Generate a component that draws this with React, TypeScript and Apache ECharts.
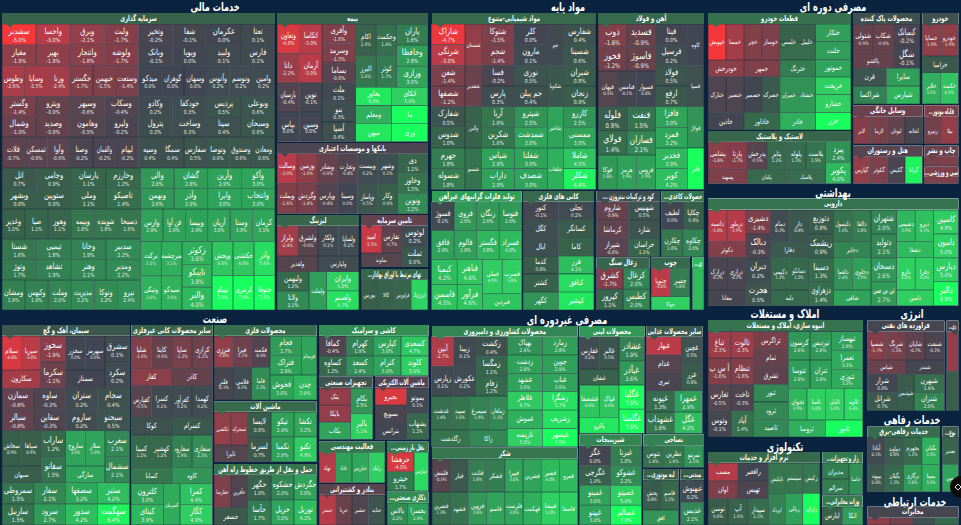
import React, { useEffect, useRef } from "react";
import * as echarts from "echarts";

// ---------- DATA: sector titles ----------
const sectorNames = ["خدمات مالی","مواد پایه","مصرفی دوره ای","بهداشتی","صنعت","مصرفی غیردوره ای","املاک و مستغلات","انرژی","خدمات رفاهی","تکنولوژی","خدمات ارتباطی"];

// ---------- DATA: cells, "name|change"; "~" = the change is not printed in the cell ----------
const investCells = [
 [["سشدبر|-5.0","واحسا|-3.0","وبرق|-2.1","ولبت|-1.7","وتخیز|-0.2","شفا|-0.1","عکرمان|0.0","تعتا|0.1"],["مغیار|-1.9","بهپر|-1.9","وانتجار|-1.8","ولوشه|-1.7","وبانک|-0.1","وپویا|0.0","ولبید|0.1","فارس|0.1"]],
 [["وطوس|-2.6","وسایا|-2.5","ورنا|-2.4","خگستر|-1.7","خبهمن|-1.5","وستعت|-1.4","میدکو|0.0","گوهران|0.0","وسهان|0.0","وآتوس|0.2","وتوسم|0.2","وامین|0.2"]],
 [["وگستر|-1.4","وپترو|-0.9","وسپهر|-0.6","وسکاب|-0.4","وکادو|0.2","خودکفا|0.3","پردیس|0.5","وبوعلی|0.6"],["وشمال|-1.0","وصدید|-0.9","وهامون|-0.5","ولپرو|-0.2","پترول|0.3","وساخت|0.3","سپنا|0.4","وسبحان|0.6"]],
 [["قلات|-0.7","ثمسکن|-0.6","وآوا|-0.6","وصنا|-0.2","والقمان|-0.2","لپیام|-0.2","وسپه|0.4","سمگا|0.4","سفارس|0.5","وتوصا|0.6","وصندوق|0.6","ومعادن|0.6"]],
 [["اتل|0.7","وجامی|0.9","پارسان|1.1","وخارزم|1.2"],["وبشهر|0.9","ستوپین|0.9","وملی|1.1","تاصیکو|1.4"]],
 [["وغدیر|1.0","صبا|1.1","وهور|1.1","وبیمه|1.6","شوینده|1.6","دسبحا|1.6"]],
 [["شستا|1.6","تپمپی|1.8","وخانا|1.9","سدبیر|2.2"],["وتوژ|1.7","تشاهد|1.9","وهنر|2.1","ومدیر|2.2"]],
 [["ومشان|1.9","وکبهمن|1.9","وملت|2.0","مدیریت|2.2","وتوکا|2.2","نیرو|2.4"]],
 [["والی|2.6","گشان|2.8","وآرین|2.9","وآکو|3.0"],["وبهمن|2.6","وآذر|2.9","وایرا|3.0","وانتخاب|3.0"]],
 [["وارس|2.9","فن آوا|2.9","وبیسا|2.9","آریان|3.0","وسنا|3.0","کرمان|3.1"]],
 [["برکت|3.3","ونیکی|3.6"],["سرچشمه|3.5","سیدکو|3.6"]],
 [["زکوثر|3.6","تاپیکو|3.8","والبر|4.0"]],
 [["وپخش|4.6","تیپیکو|7.0"],["حکشتی|4.6","کرمزی|7.0"],["وآذر|5.6","ختوقا|7.0"]],
];
const insuranceCells = [
 [["وتعاون|-4.0","اتکاسا|-3.0"],["دانا|-2.2","آرمان|-3.0"],["پارسیان|-0.4","نوین|-0.1"],["بپاس|0.0","وسین|0.0"]],
 [["وآفری|-1.6","وسرمد|-1.5","بساما|-0.6","ملت|0.1","بنو|0.3","آسیا|0.4"]],
 [["اکام|1.0","البرز|1.6"],["وحکمت|1.4","کوثر|1.7"]],
 [["پاران|1.8","وحافظا|2.8","ورازی|3.0"]],
 [["بخاور|6.0","اتکای|5.0"],["ومعلم|~3.5","ما|~7.0"],["میهن|~6.0","وری|~7.0"]],
];
const bankCells = [
 [["وسالت|-3.0","وزمین|-1.9","وبصادر|-0.9","وتجارت|-0.4","وبیست|0.2","وشهر|0.3"],["وبملت|-1.6","وگردش|-1.4","وپارس|-0.4","وسینا|0.0","وپاسار|0.5","وکار|0.9"]],
 [["دی|1.1","وخاور|1.5","ونوین|2.2"]],
];
const leasingCells = [
 [["ولراز|-2.4","ولشرق|-0.6","ولکار|0.1","ولساپا|0.2"]],
 [["ولغدیر|~-0.5","ولپارس|~0.2"]],
 [["ولبهمن|1.2","ولانا|2.2"]],
 [["ولملت|~2.8"]],
 [["وایران|5.0","ولصنم|5.7"]],
];
const capitalCells = [
 [["امید|-3.5","تفارس|-0.7"]],
 [["لوتوس|0.2","تملت|0.6"]],
 [["تماوند|~-0.5"]],
];
const exchangeCells = [[["بورس|~0.9","کالا|~1.0","فرابورس|~1.1","انرژی3|~5.2"]]];
const chemCells = [
 [["شاراک|-4.7","شرنگی|-3.0","شفن|-1.4","شصفها|-1.2","شفارک|0.5","شدوس|1.0","جهرم|1.8","شسوله|1.8"]],
 [["شستان|~-2.0","شغدیر|~-1.0","والبرز|~1.0","شسم|~1.5"]],
 [["شتوکا|-1.5","شجم|-1.4","فسا|-0.2","پارس|0.3","آریا|1.6","شکربن|1.6","شپاس|2.9","داراب|2.9"]],
 [["کلر|0.0","مارون|0.1","نوری|0.5","جم پیلن|0.4","شپترو|2.5","شمدشت|3.0","شفلنا|3.0","شصدف|3.0"]],
 [["جم|~0.1","شکویا|~0.6","شاخیر|~3.0","شلعاب|~3.5"]],
 [["شفارس|0.4","شسینا|0.6","شیران|0.8","زنجان|0.9","کازرو|2.5","ممسنی|3.0","شاملا|4.5","شکلر|6.4"]],
];
const steelCells = [
 [["ذوب|-1.6","فسدید|-0.9"],["فخوز|-1.2","فاسوژ|-0.9"]],
 [["فپهان|-0.5","فنامس|-0.1","فسپوار|0.0"]],
 [["فلوله|0.9","فنفت|1.5"],["فولای|1.4","فسازان|2.1"]],
 [["فوکا|2.6","هرمز|2.9","فروس|2.9"]],
 [["فیتا|0.0","فرسیل|0.2","فولاد|0.5","ارفع|0.7","فافزا|3.0","فمرد|3.2","فخدیر|3.9","کویر|4.2"]],
 [["کاوه|~0.0","فسپا|~0.4","فولاژ|~2.5","فایر|~7.0"]],
];
const metalCells = [
 [["فسوژ|0.1","فروی|2.6","زنگان|2.6","فنوسا|2.6"],["فافق|2.9","فالوم|2.9","فگستر|3.8","فسراد|4.0"]],
 [["کیمیا|4.2","فباهنر|4.6"],["فاسمین|4.5","فرآور|4.6"]],
 [["فملی|4.9","فسرب|5.0"]],
 [["فنردین|~4.5"]],
];
const mineCells = [[["کنور|-0.1","تجلی|0.2"],["کگل|~0.3","کسانگر|~0.8"],["ایال|~0.3","کاما|~1.0"],["کدما|0.8","فزر|4.1"],["کشتر|~1.0","کبافق|~5.5"],["کگهر|~2.5","کپشیر|~6.0"]]];
const fertCells = [[["شاروم|-0.9","شهنیس|0.5"],["کرماشا|~-0.8","شارد|~0.5"],["شیراز|-0.6","خراسان|1.1"]]];
const paperCells = [[["لطیف|0.0","چکاپا|0.9"],["چکارن|1.6","چکاوه|2.0"]]];
const coalCells = [[["کشرق|-1.7","کزغال|2.0"],["کپرور|1.1","کطبس|2.0"]]];
const woodCells = [[["چنوپا|-3.0","چفیبر|1.8"]],[["چوکا|~5.0"]]];
const otherBasicCells = [[["|~4.0"]]];
const partsCells = [
 [["خپویش|~-5.0","خمسا|~-2.5","خچر|~-1.6","خوساز|~-1.5","خلمس|~1.0","خلیبل|~1.3"]],
 [["ختکار|~2.8","خلنت|~2.8","خموتور|~3.0","خریخت|~5.0","خشارو|~5.0","خزر|~7.0"]],
 [["خودرخش|~-1.8","خمهر|~-1.5","خترنگ|~1.8"]],
 [["خنارک|~-0.3","خنصیر|~-0.3","خصمیر|~0.0","خصرکه|~0.7","خمیران|~2.4","خشتاد|~2.6"]],
 [["خاذین|~0.0","خاذاور|~1.2","خاذر|~3.5"]],
];
const plasticCells = [
 [["پشامی|-1.8","پارتا|-1.7","پدرخش|-0.5","پتایر|1.2","پلوله|1.3","پلاست|1.5"]],
 [["پسهند|~-1.5","پکیان|~1.2","پلاسک|~1.3"]],
 [["پیزد|2.4","پکویر|4.0"]],
];
const detergentCells = [
 [["شتولی|-0.9","شکاب|-0.9"]],
 [["کیمیاتک|-0.2","شگل|-0.1"]],
 [["پاکشو|~-0.9"]],
 [["قرن|~0.5","سایرا|~2.8"],["شراکسا|~1.9","شیارس|~3.8"]],
];
const autoCells = [[["خساپا|-1.9","خودرو|-1.9"]],[["خزامیا|~0.7"]],[["خلایر|3.5","خکمند|4.5"]]];
const homeCells = [[["لابر|~-1.7","لازما|~-1.3","لبوتان|~-0.8","لخانه|~-0.1"]]];
const engineCells = [[["رنیرو|~-1.2","بیلا|~-2.0"]]];
const hotelCells = [[["گپارس|~-2.0","گکوثر|~-1.5","گکیش|~-0.2","گرانا|~6.5"]]];
const printCells = [[["|~-1.3","|~-1.5"]]];
const sportCells = [[["|~-1.5"]]];
const pharmaCells = [
 [["داسبه|-3.0","درملور|-2.9"]],
 [["دکوثر|~-1.6"]],
 [["دشیری|-1.4","دبالک|-0.3","دیران|0.2","هجرت|0.5"]],
 [["درازک|-0.2","درازی|-0.2"]],
 [["معانا|~-0.1"]],
 [["دمام|0.2","دار|0.6"]],
 [["دفارا|~0.7"]],
 [["دکیمی|1.2","دسانکو|1.2"]],
 [["دلبه|~1.2"]],
 [["دتوزیع|0.8","ریشمک|0.9","دسینا|1.3","دزهراوی|1.4"]],
 [["دکپسول|1.5","دالفا|1.8"]],
 [["دجابر|~2.0"]],
 [["دلقما|2.4","دحاوی|2.9"]],
 [["شافی|~3.0"]],
 [["شتهران|2.0","دتولید|2.1","دسبحان|2.6","تی بی سی|2.7"]],
 [["دشیمی|3.9","دیرو|4.3"]],
 [["دشفا|~4.0"]],
 [["دارو|5.0","دفرا|5.0"]],
 [["دامین|~5.0"]],
 [["کاسپین|4.9","دامیون|5.0","دپارس|5.0","دالبر|6.9"]],
];
const realEstateCells = [
 [["ثباغ|-2.3","ثالوت|-2.3"],["آ س پ|-1.6","ثنظام|-1.6"],["ثغارس|-0.5","ثاخت|-0.3"],["وثوس|-0.1","آپاد|1.4"]],
 [["ثزاگرس|~-1.3","ثمام|~-0.9","ثشرق|~-0.7","ثنور|~2.1","ثرود|~2.1","ثاصید|~2.1"]],
 [["کرسون|2.6","ثپردیس|2.6"],["ثتوسا|2.8","ثتران|2.9"]],
 [["ثبهساز|2.9","ثعمرا|3.3","ثتوزی|3.3"]],
 [["ثجوان|3.9","تاسا|5.0","ثالبان|5.0","ثالوند|5.4"]],
 [["ثروسا|~3.5","ثانور|~7.0"]],
];
const oilCells = [
 [["شسپا|-1.7","شرنگ|-1.3","شاپان|-0.7","شنفت|-0.2"]],
 [["شپاس|~-1.0","شبندر|~-0.1"]],
 [["شراز|0.0","شرانل|0.7"]],
 [["شپدیس|~0.8"]],
 [["شبهرن|1.4","شتران|2.0"]],
];
const oilExtractCells = [[["|~-2.0","|~0.9"]]];
const powerCells = [[["آبادا|0.1","دماوند|0.8","بجهرم|1.2","بکیان|3.5"],["بپیوند|0.6","بگیلان|1.2","برگازی|2.6","بمپنا|3.5"]]];
const otherUtilCells = [[["بغدیر|~1.1","بمپن|~3.0"]]];
const softwareCells = [
 [["مسب|~-2.9","رافغیر|~0.0"],["اوان|~-1.5","تهیس|~-0.3"]],
 [["تاپکیش|~1.6","سیستم|~1.6","رکیش|~1.6"]],
 [["توسن|0.8","آپ|1.0","سپیدار|1.3"]],
 [["ایرداد|~1.9","ریالی|~2.9","رازان|~7.0"]],
];
const hardwareCells = [[["مدیران|~1.8","سرالم|~1.8"]],[["خاسا|~2.4"]]];
const telecomGearCells = [[["ایارس|~1.0","اتکا|~2.8"]]];
const telecomCells = [[["|~-1.9","|~-1.2","|~0.4","|~1.2"]]];
const cementCells = [
 [["سیلام|-4.0","سپرپا|-3.0"]],
 [["سکارون|~-2.5"]],
 [["سخوز|-1.9","سکرما|-1.1"]],
 [["سخزر|0.0","سهرمز|0.0"]],
 [["سمتاز|~0.0"]],
 [["سشرق|0.1","سکرد|0.2"]],
 [["سمازن|-0.8","ساوه|-0.3","ستران|0.2","سجام|0.4"],["سبالر|-0.8","سفاین|-0.3","ساروم|0.2","سیجنو|0.5"]],
 [["سخاش|0.9","سپاها|0.9"]],
 [["سبهان|~0.9"]],
 [["ساراب|1.2","سفانو|1.5"]],
 [["ساروج|3.0","سلار|3.0"]],
 [["سارگی|~3.0"]],
 [["سغرب|2.1","سشمال|2.1"]],
 [["سمروطی|1.5","سفار|2.1","سصفها|3.2","سثبر|4.2"],["ساربیل|1.5","سرود|2.7","سدور|4.2","سهگمت|6.4"]],
];
const nonMetalCells = [
 [["شلیا|-1.6","کایتا|-0.9","ساپا|-1.3","کرازی|-1.1"]],
 [["کفار|~-1.8","کاذر|~-0.9"]],
 [["کفپارس|-0.5","کسرا|0.1","کفرآور|0.2","کهمدا|0.2"]],
 [["کوکا|~0.4","کسرام|~0.7"]],
 [["کمینا|1.2","کهشیر|1.2","سفارود|1.9","سفاری|2.3"]],
 [["کسابا|~1.6","کاوه|~2.5"]],
 [["کلترون|3.0","کیتای|3.9"]],
 [["کسرمان|~3.3"]],
 [["کمرا|4.4","کگاز|4.9"]],
];
const metalProdCells = [
 [["فنرژی|-2.0","فیرا|-1.1","فکمند|-0.4"]],
 [["فلنر|-0.1","فلامی|0.2"]],
 [["فاما|2.2"]],
 [["فجام|2.7","فتراک|2.9"]],
 [["فرسام|~3.0"]],
 [["قجوش|3.0","چدن|3.9"]],
];
const machineCells = [
 [["تکشی|~-2.0","تسحرکه|~-1.8"]],
 [["تایرا|~-0.5"]],
 [["لایسا|0.8","لسرما|0.7"]],
 [["تپکو|2.9","تکمبا|2.9"]],
 [["تکشا|3.2","تکنو|4.9"]],
];
const railCells = [
 [["حفارسا|~-1.5","حآفرین|~-0.3"]],
 [["حسفر|~0.7"]],
 [["حگهر|1.0","حآسا|1.7"]],
 [["حشکوه|2.0","حریل|3.0"]],
 [["حگردش|3.0","توریل|4.2"]],
];
const tileCells = [[["کمافا|-0.4","کهرام|1.9","کپارس|3.0","کسعدی|4.7"],["کساوه|1.2","کسعد|2.4","کترام|3.0","کلوند|5.0"]]];
const equipCells = [[["بتک|~-2.0","بایکا|~-2.0","بکاب|~3.0"]],[["بکام|2.5","بالبر|5.1"]]];
const electricCells = [[["بجیرو|~-4.0","بسویچ|~-0.2","بترانس|~0.0"]],[["بموتو|0.1","بشهاب|1.2"]]];
const engineeringCells = [[["تهاد|~-2.9","غابا|~2.9","خبازرس|~3.2","رایک|~5.0"]]];
const roadCells = [[["حرهشا|-4.0","حپترو|1.7"]],[["حپارس|~5.5"]]];
const portCells = [[["حبندر|~-2.9","حریا|~-1.0","حشیر|~-0.3","حتاید|~0.5"]]];
const holdingCells = [[["بالاس|2.2","بخسرا|2.9"]]];
const agriCells = [
 [["آبین|-2.7","زبینا|0.1"],["زپارس|0.1","عکورش|0.2"]],
 [["زکشت|0.4","زمگسا|1.1","زفام|1.2"]],
 [["بهپاک|2.4","زدشت|2.9","غشهد|3.0","غلاظر|4.7","غموش|~3.5","تازیسه|5.0"],["زمارد|2.8","جوین|2.9","غناب|3.0","زشگزا|5.7","زشریف|~5.7","غبشهر|7.0"]],
 [["غدشت|1.4","سپید|1.5","سیمرغ|1.9","زملعان|2.1"]],
 [["زگلدشت|~1.5","زاکا|~2.1"]],
];
const sugarCells = [[["قلبتش|-0.5","قپار|~0.7","قثابت|1.8","قشکر|~1.8","قپیرا|3.0","قشرین|~3.0","قشیر|4.0","قمرو|~4.0"],["قنشرین|1.3","قشهد|~1.5","قزوین|2.6","قاسم|~3.0","قلرست|3.0","قهکمت|~3.5","قنیشا|5.0","قاصفا|~5.0"]]];
const dairyCells = [
 [["غفارس|0.2","غالبر|0.5"]],
 [["غشان|~1.0"]],
 [["غشاذر|1.9","غپآذر|2.6"]],
 [["غشصفا|4.6","غپاک|4.6"]],
 [["پاکرو|~6.0"]],
 [["غگلپا|7.0","غگلستا|7.0"]],
];
const otherFoodCells = [
 [["غبهار|~-3.0","غدام|~-0.5","تبری|~-0.2"]],
 [["غچین|0.5","غزر|0.8"]],
 [["غپونه|1.3","غمهرا|2.9"],["غشهداب|1.6","غگل|4.2"]],
];
const sweetCells = [[["غگز|0.0","غگرجی|1.0","غمینو|3.0","غپینو|3.0"],["غبرنا|1.8","غشوکو|2.2","غصینو|5.0","غسالم|7.0"]]];
const textileCells = [[["نتوس|1.4","نطرین|1.6","نمرینو|2.5"]]];
const vehicleCells = [[["پخش|0.8","قاسم|1.2"]],[["افق|~2.5"]]];
const cropCells = [[["غبهنوش|0.2","غدیس|2.1"]]];

const groupNames = ["سرمایه گذاری","بیمه","بانکها و موسسات اعتباری","لیزینگ","تامین سرمایه","...تهای مرتبط با اوراق بهادار","مواد شیمیایی-متنوع","آهن و فولاد","تولید فلزات گرانبهای غیرآهن","کانی های فلزی","... کود و ترکیبات نیتروژن","...حصولات کاغذی","زغال سنگ","چوب","...ی","قطعات خودرو","لاستیک و پلاستیک","محصولات پاک کننده","خودرو","وسایل خانگی","...قابله موتور","هتل و رستوران","چاپ و نشر","...سی و ورزشی","دارویی","انبوه سازی، املاک و مستغلات","فراورده های نفتی","...دی","خدمات رفاهی-برق","...نوع","نرم افزار و خدمات","...زار و تجهیزات","...وزات مخابراتی","مخابرات","سیمان، آهک و گچ","سایر محصولات کانی غیرفلزی","محصولات فلزی","ماشین آلات","حمل و نقل از طریق خطوط راه آهن","کاشی و سرامیک","تجهیزات صنعتی","ماشین آلات الکتریکی","فعالیت مهندسی","...نقل بار زمینی","بنادر و کشتیرانی","...ذکاری صنعتی","محصولات کشاورزی و دامپروری","شکر","محصولات لبنی","سایر محصولات غذایی","شیرینیجات","نساجی","...لیه موتوری","...میدنی"];
const groupChanges = [1.0,1.0,-0.2,1.1,-0.8,1.1,1.2,1.2,2.9,1.2,0.3,1.6,1.1,1.2,4.0,1.4,1.1,0.4,0.4,-1.0,-1.5,-0.5,-1.0,-1.5,1.5,1.5,-0.1,-0.1,1.3,0.7,1.2,1.7,1.7,-0.1,0.6,1.0,1.3,1.2,1.5,2.3,0.5,-0.4,1.6,1.7,-0.6,2.3,2.0,1.6,2.6,0.7,2.0,1.9,1.0,0.9];
const groupCells = [investCells,insuranceCells,bankCells,leasingCells,capitalCells,exchangeCells,chemCells,steelCells,metalCells,mineCells,fertCells,paperCells,coalCells,woodCells,otherBasicCells,partsCells,plasticCells,detergentCells,autoCells,homeCells,engineCells,hotelCells,printCells,sportCells,pharmaCells,realEstateCells,oilCells,oilExtractCells,powerCells,otherUtilCells,softwareCells,hardwareCells,telecomGearCells,telecomCells,cementCells,nonMetalCells,metalProdCells,machineCells,railCells,tileCells,equipCells,electricCells,engineeringCells,roadCells,portCells,holdingCells,agriCells,sugarCells,dairyCells,otherFoodCells,sweetCells,textileCells,vehicleCells,cropCells];

// ---------- LAYOUT (series boxes, not data): [x1,x2,y1,y2] ----------
const sectorTitles = [[215,6.5],[568,6.5],[833,6.5],[833,192],[215,318],[567,319],[785,313],[912,313],[912,419],[785,446],[915,501]];
const groupHeads = [[2,275,13,24],[277,428,13,24],[277,428,143,153.5],[277,359,215,225.5],[361,428,215,225.5],[361,428,269,279],[432,596,13,24],[598,704,13,24],[432,521.7,191,201.5],[523,594,191,201.5],[596.7,660,191,201.5],[661.7,704,191,201.5],[596.7,649.3,257.7,268.3],[651,690,257.7,268.3],[692.3,704,257.7,268.3],[708,851,13,24],[708,851,131,141.7],[853,920,13,24],[922.3,958.3,13,24],[853,922.3,105.3,116.5],[924.3,958.3,105.3,116.5],[853,922.3,145.7,156.5],[924.3,958.3,145.7,156.5],[924.3,958.3,166.7,176.7],[708,958.3,198.5,209.5],[708,863,320,331],[867.3,944.3,320.7,331.5],[946.7,958.3,320.7,331.5],[867.3,940,426.7,437],[942.3,958.3,426.7,437],[708,820,452,462.8],[822.3,862.7,452,462.8],[822.3,862.7,495.7,506.8],[867.3,958.3,506.7,517.5],[2,130,325,335.8],[131.3,212.3,325,335.8],[214,316.7,325,335.8],[214,316.7,401.7,411.8],[214,316.7,464,474.5],[319,428.3,325,335.8],[319,372.7,376.7,387.8],[375,428.3,376.7,387.8],[319,385,441.7,452.2],[387,428.3,441.7,452.2],[319,385,484,494.8],[387,428.3,491.7,502.8],[432,577.7,326,336.5],[432,577.7,447.7,458.8],[579.7,644.3,326,336.5],[646.3,702.3,326,336.5],[579.7,641.3,434.3,445.5],[643.3,704,434.3,445.5],[643.3,678.3,469,479.8],[680.7,704,469,479.8]];
type B = [string, number, number, number, number];
const groupBlocks: B[][] = [
 [["r",2,275,24,65.5],["r",2,275,65.5,96.5],["r",2,275,96.5,137],["r",2,275,137,168],["r",2,140.5,168,209],["r",2,140.5,209,239],["r",2,140.5,239,280],["r",2,140.5,280,310],["r",140.5,275,168,209],["r",140.5,275,209,241.5],["c",140.5,182,241.5,310],["c",182,212,241.5,310],["c",212,275,241.5,310]],
 [["r",277,322,24,141.5],["c",322,355.7,24,141.5],["c",355.7,396.7,24,87.3],["c",396.7,427.7,24,87.3],["r",355.7,427.7,87.3,141.5]],
 [["r",277,397.7,153.5,213.5],["c",397.7,427.7,153.5,213.5]],
 [["r",277,359,225.7,256],["r",277,359,256,271.7],["c",277,309,271.7,310],["c",309,326.7,271.7,310],["c",326.7,359,271.7,310]],
 [["r",361,401.7,225.7,253],["c",401.7,427.7,225.7,266.7],["r",361,401.7,253,266.7]],
 [["r",361,428,279.5,310]],
 [["c",431.7,465,24,189.3],["c",465,481.7,24,189.3],["c",481.7,514.3,24,189.3],["c",514.3,547.3,24,189.3],["c",547.3,563.3,24,189.3],["c",563.3,596,24,189.3]],
 [["r",598,655.7,24,71],["r",598,655.7,71,106.7],["r",598,655.7,106.7,155],["r",598,655.7,155,189.3],["c",655.7,687.3,24,189.3],["c",687.3,704,24,189.3]],
 [["r",431.7,521.7,201.7,259.3],["r",431.7,482.7,259.3,310],["r",482.7,521.7,259.3,293.3],["r",482.7,521.7,293.3,310]],
 [["r",523,594,201.7,310]],
 [["r",596.7,660,201.7,257]],
 [["r",661.7,704,201.7,257]],
 [["r",596.7,649.3,268.3,310]],
 [["r",651,690,268.3,296.7],["r",651,690,296.7,310]],
 [["r",692.3,704,268.3,310]],
 [["r",708,815.7,24,60],["c",815.7,851,24,130],["r",708,815.7,60,76.7],["r",708,815.7,76.7,112.7],["r",708,815.7,112.7,130]],
 [["r",708,825.7,141.7,169.5],["r",708,825.7,169.5,183.5],["c",825.7,851,141.7,183.5]],
 [["r",853,893.3,24,53.3],["c",893.3,920,24,68.3],["r",853,893.3,53.3,68.3],["r",853,920,68.3,104]],
 [["r",922.3,958.3,24,56],["r",922.3,958.3,56,72.7],["r",922.3,958.3,72.7,104]],
 [["r",853,922.3,116.7,144]],
 [["r",924.3,958.3,116.7,144]],
 [["r",853,922.3,156.5,183.5]],
 [["r",924.3,958.3,156.5,166]],
 [["r",924.3,958.3,176.7,183.5]],
 [["r",708,745.7,210,241.7],["r",708,745.7,241.7,257.3],["c",745.7,770.7,210,305.7],["r",708,745.7,257.3,290],["r",708,745.7,290,305.7],["r",770.7,808.3,210,241.7],["r",770.7,808.3,241.7,257.3],["r",770.7,808.3,257.3,290],["r",770.7,808.3,290,305.7],["c",808.3,833.7,210,305.7],["r",833.7,871,210,241.7],["r",833.7,871,241.7,257.3],["r",833.7,871,257.3,290],["r",833.7,871,290,305.7],["c",871,896.7,210,305.7],["r",896.7,933.7,210,241.7],["r",896.7,933.7,241.7,257.3],["r",896.7,933.7,257.3,290],["r",896.7,933.7,290,305.7],["c",933.7,958.3,210,305.7]],
 [["r",708,753.7,331.7,437],["c",753.7,788.3,331.7,437],["r",788.3,831.7,331.7,388.3],["c",831.7,862.7,331.7,388.3],["r",788.3,862.7,388.3,420],["r",788.3,862.7,420,437]],
 [["r",867.3,944.3,331.7,360],["r",867.3,944.3,360,374.3],["c",867.3,897.7,374.3,411],["c",897.7,914,374.3,411],["c",914,944.3,374.3,411]],
 [["c",946.7,958.3,331.7,411]],
 [["r",867.3,940,437,491.7]],
 [["c",942.3,958.3,437,491.7]],
 [["r",708,768.3,463,498.7],["r",768.3,820,463,493.3],["r",708,768.3,498.7,525],["r",768.3,820,493.3,525]],
 [["c",822.3,849,463,495],["c",849,862.7,463,495]],
 [["r",822.3,862.7,507,525]],
 [["r",867.3,958.3,517.7,525]],
 [["r",2,40.7,336,370],["r",2,40.7,370,388.3],["c",40.7,65.7,336,388.3],["r",65.7,105,336,370],["r",65.7,105,370,388.3],["c",105,129.3,336,388.3],["r",2,129.3,388.3,430.7],["r",2,40.7,430.7,466],["r",2,40.7,466,482.7],["c",40.7,65.7,430.7,482.7],["r",65.7,105,430.7,466],["r",65.7,105,466,482.7],["c",105,129.3,430.7,482.7],["r",2,129.3,482.7,525]],
 [["r",131.3,212.3,336,368.3],["r",131.3,212.3,368.3,385.7],["r",131.3,212.3,385.7,417.3],["r",131.3,212.3,417.3,435],["r",131.3,212.3,435,467.3],["r",131.3,212.3,467.3,483.7],["c",131.3,163.3,483.7,525],["c",163.3,180,483.7,525],["c",180,212.3,483.7,525]],
 [["r",214,270,336,367.3],["r",214,251.7,367.3,400],["r",251.7,270,367.3,400],["c",270,301.7,336,375],["c",301.7,316.7,336,375],["r",270,316.7,375,400]],
 [["r",214,247.7,412,445],["r",214,247.7,445,461.7],["c",247.7,271,412,461.7],["c",271,294,412,461.7],["c",294,316.7,412,461.7]],
 [["r",214,247.7,474.7,507.7],["r",214,247.7,507.7,525],["c",247.7,271,474.7,525],["c",271,294,474.7,525],["c",294,316.7,474.7,525]],
 [["r",319,428.3,336,375.7]],
 [["c",319,350.7,388,439.3],["c",350.7,372.7,388,439.3]],
 [["c",375,406.7,388,439.3],["c",406.7,428.3,388,439.3]],
 [["r",319,385,452.3,482.7]],
 [["c",387,414,452.3,491],["c",414,428.3,452.3,491]],
 [["r",319,385,495,525]],
 [["r",387,428.3,503,525]],
 [["r",431.7,475.7,336.7,396],["c",475.7,507.3,336.7,396],["c",507.3,577.7,336.7,446.7],["r",431.7,507.3,396,430],["r",431.7,507.3,430,446.7]],
 [["r",432,577.7,459,525]],
 [["r",579.7,619,336.7,369],["r",579.7,619,369,385],["c",619,644.3,336.7,385],["r",579.7,619,385,417.3],["r",579.7,619,417.3,433.3],["c",619,644.3,385,433.3]],
 [["c",646.3,681.3,336.7,390.7],["c",681.3,702.3,336.7,390.7],["r",646.3,702.3,390.7,433.3]],
 [["c",579.7,641.3,445.7,525]],
 [["r",643.3,704,445.7,467.3]],
 [["r",643.3,678.3,480,510],["r",643.3,678.3,510,525]],
 [["c",680.7,704,480,525]],
];

const FONT = "'DejaVu Sans', sans-serif";
const BG = "#0a2440";
const STOPS: [number, number[]][] = [[-5,[245,55,58]],[-3,[185,60,72]],[-1.5,[126,64,74]],[0,[66,70,82]],[1,[56,98,75]],[2,[52,133,84]],[3,[48,164,90]],[5,[47,207,98]],[7,[24,255,94]]];
function colorOf(v: number) {
  if (v <= STOPS[0][0]) return `rgb(${STOPS[0][1].join(",")})`;
  for (let i = 1; i < STOPS.length; i++) {
    if (v <= STOPS[i][0]) {
      const [a, ca] = STOPS[i - 1], [b, cb] = STOPS[i];
      const t = (v - a) / (b - a);
      return `rgb(${ca.map((c, k) => Math.round(c + (cb[k] - c) * t)).join(",")})`;
    }
  }
  return `rgb(${STOPS[STOPS.length - 1][1].join(",")})`;
}
function parseCell(s: string) {
  const [name, raw] = s.split("|");
  const hidden = raw.startsWith("~");
  return { name, pct: parseFloat(raw.replace("~", "")), hidden };
}
// One strip of cells: the treemap series draws the rectangles; names sit on them as condensed texts.
function cellSeries(cells: string[], x: number, y: number, w: number, h: number, vertical: boolean, graphic: any[]) {
  const parsed = cells.map(parseCell);
  const cw = vertical ? w : w / cells.length;
  const ch = vertical ? h / cells.length : h;
  parsed.forEach((p, i) => {
    if (!p.name) return;
    const cx = vertical ? x + w / 2 : x + (i + 0.5) * cw;
    const cy = vertical ? y + (i + 0.5) * ch : y + h / 2;
    const sz = Math.max(5.5, Math.min(10, ch * 0.42, cw * 0.36));
    const sx = Math.min(0.78, (cw - 2) / (p.name.length * 0.62 * sz));
    const showPct = !p.hidden;
    const ps = Math.max(4.6, sz * 0.66);
    graphic.push({ type: "text", z: 99, silent: true, x: cx, y: showPct ? cy - sz * 0.38 : cy, scaleX: sx, style: { text: p.name, fill: "#fff", font: `${sz.toFixed(1)}px ${FONT}`, align: "center", verticalAlign: "middle" } });
    if (showPct) graphic.push({ type: "text", z: 99, silent: true, x: cx, y: cy + sz * 0.62, scaleX: 0.82, style: { text: `${p.pct.toFixed(1)}%`, fill: "#e4ece6", font: `${ps.toFixed(1)}px ${FONT}`, align: "center", verticalAlign: "middle" } });
  });
  return {
    type: "treemap", silent: true, roam: false, nodeClick: false, sort: false, squareRatio: 0.001, visibleMin: 0,
    left: x, top: y, width: w, height: h,
    breadcrumb: { show: false },
    levels: [
      { itemStyle: { borderWidth: 0, gapWidth: 0 } },
      { itemStyle: { borderWidth: 0.3, borderColor: "#1b2c3a", gapWidth: 0 } },
    ],
    label: { show: false },
    data: parsed.map((p) => ({ name: p.name, value: 1, itemStyle: { color: colorOf(p.pct) } })),
  };
}
function headerSeries(name: string, pct: number, r: number[]) {
  const [x1, x2, y1, y2] = r;
  return {
    type: "treemap", silent: true, roam: false, nodeClick: false, sort: false, visibleMin: 0,
    left: x1, top: y1, width: x2 - x1, height: y2 - y1,
    breadcrumb: { show: false },
    itemStyle: { borderWidth: 0, gapWidth: 0 },
    label: { show: false },
    data: [{ name, value: 1, itemStyle: { color: colorOf(pct) } }],
  };
}

export default function App() {
  const ref = useRef<HTMLDivElement>(null);
  useEffect(() => {
    const chart = echarts.init(ref.current!, null, { renderer: "svg" });
    const series: any[] = [];
    const graphic: any[] = [];
    groupNames.forEach((name, g) => {
      const head = groupHeads[g];
      series.push(headerSeries(name, groupChanges[g], head));
      groupCells[g].forEach((lines, b) => {
        const [mode, x1, x2, y1, y2] = groupBlocks[g][b];
        const W = x2 - x1, H = y2 - y1;
        lines.forEach((line, i) => {
          if (mode === "r") {
            const rh = H / lines.length;
            series.push(cellSeries(line, x1, y1 + i * rh, W, rh, false, graphic));
          } else {
            const cw = W / lines.length;
            series.push(cellSeries(line, x1 + i * cw, y1, cw, H, true, graphic));
          }
        });
      });
      const nx = head[0] + 4, ny = head[3];
      graphic.push({ type: "polygon", z: 100, silent: true, shape: { points: [[nx, ny - 0.5], [nx + 8, ny - 0.5], [nx + 4, ny + 3.5]] }, style: { fill: colorOf(groupChanges[g]) } });
      const headW = head[1] - head[0];
      const sx = Math.min(0.66, (headW - 3) / (name.length * 0.59 * 8));
      graphic.push({ type: "text", z: 101, silent: true, x: (head[0] + head[1]) / 2, y: (head[2] + head[3]) / 2, scaleX: sx, style: { text: name, fill: "#fff", font: `bold 8px ${FONT}`, align: "center", verticalAlign: "middle" } });
    });
    sectorNames.forEach((name, i) => {
      graphic.push({ type: "text", z: 100, silent: true, x: sectorTitles[i][0], y: sectorTitles[i][1], scaleX: 0.68, style: { text: name, fill: "#fff", font: `bold 12px ${FONT}`, align: "center", verticalAlign: "middle" } });
    });
    graphic.push({ type: "circle", z: 110, silent: true, shape: { cx: 961, cy: 487, r: 11 }, style: { fill: "#0c0c0c" } });
    graphic.push({ type: "polygon", z: 111, silent: true, shape: { points: [[955, 487], [958, 484], [961, 487], [958, 490]] }, style: { fill: "none", stroke: "#ddd", lineWidth: 1 } });
    chart.setOption({ animation: false, backgroundColor: BG, series, graphic });
    return () => chart.dispose();
  }, []);
  return <div ref={ref} style={{ position: "absolute", left: 0, top: 0, width: 961, height: 525 }} />;
}
